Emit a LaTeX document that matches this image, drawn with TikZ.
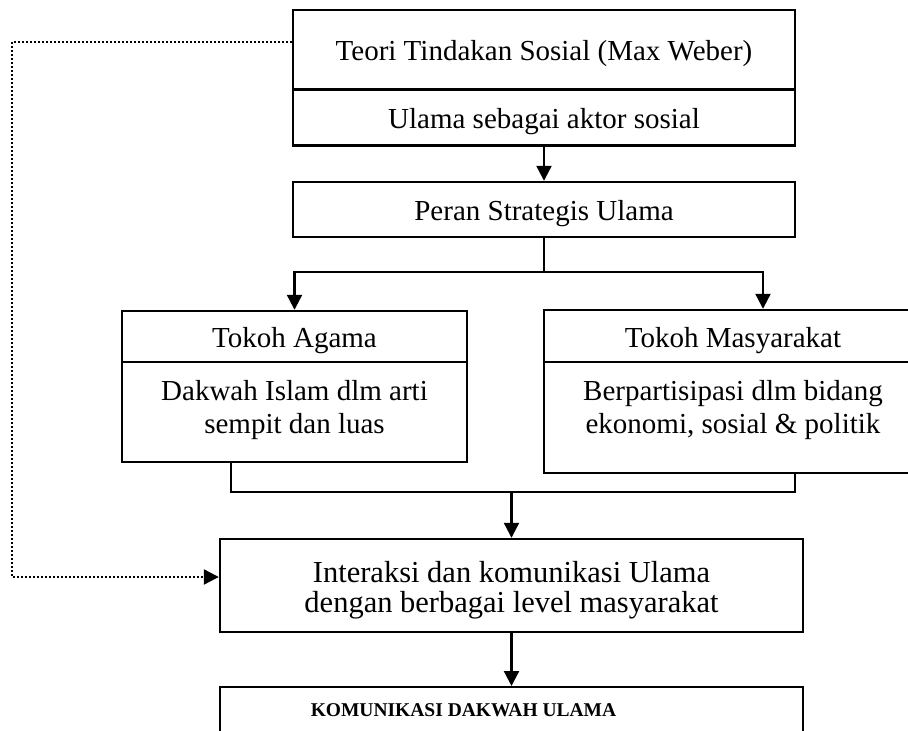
\documentclass[tikz,border=0pt]{standalone}
\usepackage{fontspec}
\setmainfont{Liberation Serif}
\usetikzlibrary{arrows.meta}

\begin{document}
\begin{tikzpicture}[
    x=1pt, y=-1pt,
    box/.style={
        draw,
        line width=2.4pt,
        inner sep=0pt,
        align=center,
        font=\fontsize{29}{33}\selectfont,
    },
    oneline/.style={
        box,
        text height=22pt,
        text depth=0pt,
    },
    twoline/.style={
        box,
        text height=53pt,
    },
    flow/.style={
        line width=2.2pt,
        -{Triangle[length=15pt, width=15pt]},
    },
    joint/.style={
        line width=2pt,
    },
    feedback/.style={
        line width=2.2pt,
        dash pattern=on 2pt off 2pt,
        -{Triangle[length=15pt, width=15pt]},
    }
]
    \useasboundingbox (0,0) rectangle (908,731);
    \clip (0,0) rectangle (908,731);

    % Theory
    \node[oneline, minimum width=502pt, minimum height=79.5pt] (teori) at (544,49.75) {Teori Tindakan Sosial (Max Weber)};
    \node[oneline, minimum width=502pt, minimum height=56pt] (aktor) at (544,117.5) {Ulama sebagai aktor sosial};
    \node[oneline, minimum width=502pt, minimum height=55pt] (peran) at (544,209.5) {Peran Strategis Ulama};

    % Roles
    \node[oneline, minimum width=345pt, minimum height=51pt] (agamaHead) at (294.5,336.5) {Tokoh Agama};
    \node[twoline, minimum width=345pt, minimum height=100pt, text depth=11pt] (agamaBody) at (294.5,412) {Dakwah Islam dlm arti\\sempit dan luas};
    \node[oneline, minimum width=378pt, minimum height=52pt] (masyHead) at (733,336) {Tokoh Masyarakat};
    \node[twoline, minimum width=378pt, minimum height=111pt, text depth=22pt] (masyBody) at (733,417.5) {Berpartisipasi dlm bidang\\ekonomi, sosial \& politik};

    % Outcome
    \node[box, minimum width=583pt, minimum height=93pt, text height=54pt, text depth=1pt, font=\fontsize{30.5}{30}\selectfont] (interaksi) at (511.5,585.5) {Interaksi dan komunikasi Ulama\\dengan berbagai level masyarakat};
    \node[box, anchor=north, minimum width=583pt, inner ysep=16pt, text height=13pt, text depth=60pt, font=\bfseries\fontsize{19.5}{24}\selectfont] (komunikasi) at (511.5,686) {KOMUNIKASI DAKWAH ULAMA\hspace*{96pt}};

    % Connectors
    \draw[flow] (aktor) -- (peran);
    \coordinate (split) at (peran.south |- 0,272);
    \draw[joint] (peran.south) -- (split);
    \draw[flow] (split) -| (agamaHead.north);
    \draw[flow] (split) -| ([xshift=30pt]masyHead.north);
    \coordinate (join) at (interaksi.north |- 0,492);
    \draw[joint] ([xshift=-63.5pt]agamaBody.south) |- (join) -| ([xshift=62pt]masyBody.south);
    \draw[flow] (join) -- (interaksi);
    \draw[flow] (interaksi) -- (komunikasi);

    % Feedback
    \coordinate (back) at (12,577);
    \draw[feedback] ([yshift=8pt]teori.west) -| (back) -- (back -| interaksi.west);
\end{tikzpicture}
\end{document}
